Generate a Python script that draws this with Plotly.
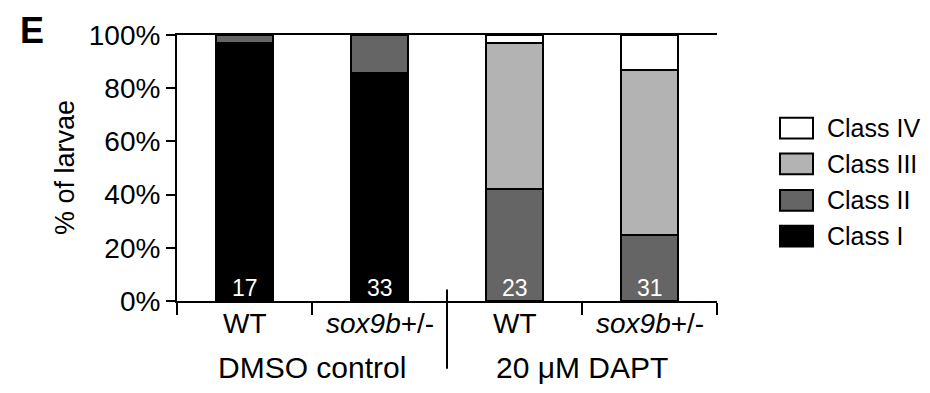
import plotly.graph_objects as go

# ---- data ----
genotypes = ["WT", "<i>sox9b</i>+/-", "WT", "<i>sox9b</i>+/-"]
treatments = ["DMSO control", "20 μM DAPT"]
n_larvae = [17, 33, 23, 31]
class_names = ["Class I", "Class II", "Class III", "Class IV"]
class_I = [96.9, 85.9, 0.0, 0.0]
class_II = [3.1, 14.1, 42.2, 24.8]
class_III = [0.0, 0.0, 54.7, 61.9]
class_IV = [0.0, 0.0, 3.1, 13.3]
class_colors = ["#000000", "#656565", "#b3b3b3", "#ffffff"]
y_ticks = [0, 20, 40, 60, 80, 100]
y_ticktext = ["0%", "20%", "40%", "60%", "80%", "100%"]
panel_label = "E"

series = [class_I, class_II, class_III, class_IV]

# ---- layout geometry (page pixels; page body has an 8px margin) ----
OFF = 8
W, H = 930 - 2 * OFF, 393 - 2 * OFF
PLOT_L, PLOT_R, PLOT_T, PLOT_B = 177, 717, 33, 301.5   # target page pixels
ML, MT = PLOT_L - OFF, PLOT_T - OFF
MR = W - (PLOT_R - OFF)
MB = H - (PLOT_B - OFF)
PW, PH = PLOT_R - PLOT_L, PLOT_B - PLOT_T
FONT = "Liberation Sans, Arial, Helvetica, sans-serif"


def px_x(px):
    return (px - PLOT_L) / PW


def px_y(py):
    return (PLOT_B - py) / PH


xs = list(range(len(genotypes)))

fig = go.Figure()
for name, vals, col in zip(class_names, series, class_colors):
    fig.add_trace(go.Bar(
        x=xs, y=vals, name=name, width=0.42,
        marker=dict(color=col, line=dict(color="#000000", width=2)),
        showlegend=False,
    ))

annotations = []
# n labels inside bars
for x, n in zip(xs, n_larvae):
    annotations.append(dict(x=x, y=0, xref="x", yref="y", text=str(n), showarrow=False,
                            yanchor="middle", yshift=13,
                            font=dict(family=FONT, size=23, color="#ffffff")))
# genotype labels
for x, g in zip(xs, genotypes):
    annotations.append(dict(x=x, y=0, xref="x", yref="paper", text=g, showarrow=False,
                            yanchor="middle", yshift=-22,
                            font=dict(family=FONT, size=28, color="#000000")))
# treatment labels
per_group = len(genotypes) // len(treatments)
for i, t in enumerate(treatments):
    cx = i * per_group + (per_group - 1) / 2
    annotations.append(dict(x=cx, y=0, xref="x", yref="paper", text=t, showarrow=False,
                            yanchor="middle", yshift=-66,
                            font=dict(family=FONT, size=30, color="#000000")))
# panel label
annotations.append(dict(x=px_x(32), y=px_y(28), xref="paper", yref="paper", text="<b>" + panel_label + "</b>",
                        showarrow=False, xanchor="center", yanchor="middle",
                        font=dict(family=FONT, size=36, color="#000000")))
# y-axis title
annotations.append(dict(x=px_x(65), y=0.5, xref="paper", yref="paper", text="% of larvae",
                        showarrow=False, textangle=-90, xanchor="center", yanchor="middle",
                        font=dict(family=FONT, size=27, color="#000000")))

shapes = []
# separator between treatment groups
for i in range(1, len(treatments)):
    xb = (i * per_group) / len(genotypes)
    shapes.append(dict(type="line", xref="x domain", yref="paper", x0=xb, x1=xb,
                       y0=px_y(290), y1=px_y(370), line=dict(color="#000000", width=2)))

# custom legend (top entry = last class)
leg_x0, leg_x1 = px_x(780), px_x(813)
row_y = [127, 163, 200, 236]
for k, (name, col) in enumerate(zip(class_names[::-1], class_colors[::-1])):
    yc = row_y[k]
    shapes.append(dict(type="rect", xref="paper", yref="paper", x0=leg_x0, x1=leg_x1,
                       y0=px_y(yc + 10.5), y1=px_y(yc - 10.5),
                       fillcolor=col, line=dict(color="#000000", width=2)))
    annotations.append(dict(x=px_x(825), y=px_y(yc), xref="paper", yref="paper", text=name,
                            showarrow=False, xanchor="left", yanchor="middle",
                            font=dict(family=FONT, size=25, color="#000000")))

n = len(genotypes)
fig.update_layout(
    width=W, height=H,
    margin=dict(l=ML, r=MR, t=MT, b=MB, pad=0),
    barmode="stack",
    plot_bgcolor="#ffffff", paper_bgcolor="#ffffff",
    font=dict(family=FONT, color="#000000"),
    annotations=annotations,
    shapes=shapes,
    xaxis=dict(
        range=[-0.5, n - 0.5], showgrid=False, zeroline=False,
        showline=True, linecolor="#000000", linewidth=2, mirror=True,
        tickmode="array", tickvals=[i - 0.5 for i in range(n + 1)],
        ticktext=["" for _ in range(n + 1)],
        ticks="outside", ticklen=12, tickwidth=2, tickcolor="#000000",
        fixedrange=True,
    ),
    yaxis=dict(
        range=[0, 100], showgrid=False, zeroline=False,
        showline=True, linecolor="#000000", linewidth=2,
        tickmode="array", tickvals=y_ticks, ticktext=y_ticktext,
        ticks="outside", ticklen=9, tickwidth=2, tickcolor="#000000",
        tickfont=dict(family=FONT, size=28, color="#000000"),
        fixedrange=True,
    ),
    showlegend=False,
)

fig.write_html("out.html")
